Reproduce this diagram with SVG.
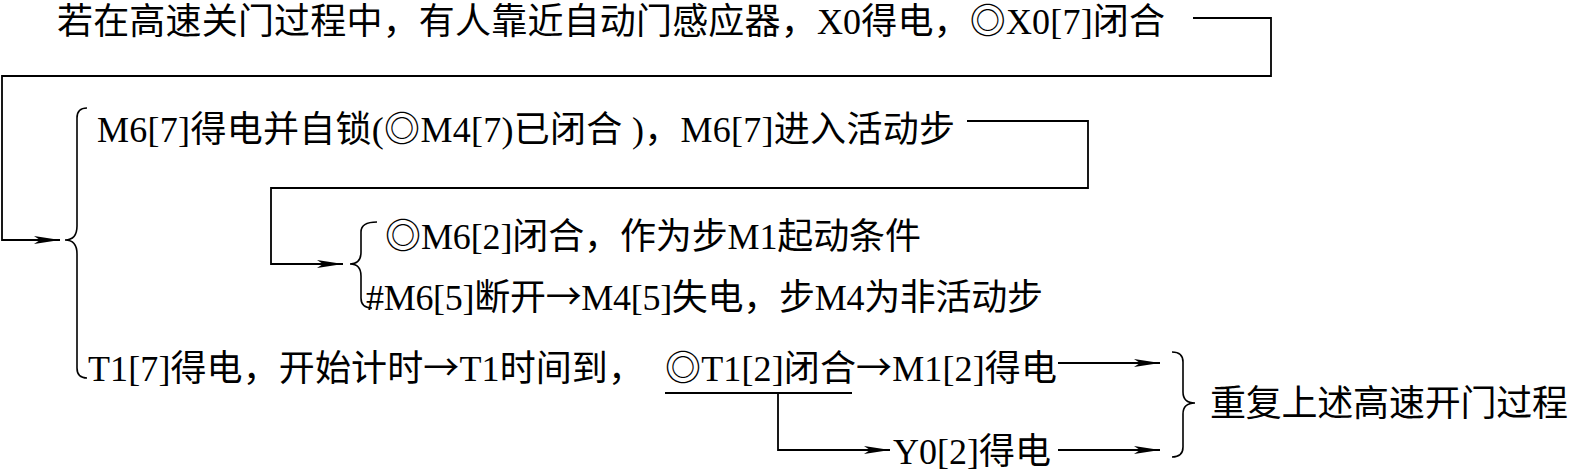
<svg xmlns="http://www.w3.org/2000/svg" width="1574" height="471" viewBox="0 0 1574 471">
<style>
.t{font-family:"Liberation Serif","Noto Sans CJK SC",serif;font-size:36px;fill:#000}
.a{font-family:"Noto Sans CJK SC",sans-serif}
.ln{fill:none;stroke:#000;stroke-width:1.8}
.br{fill:none;stroke:#000;stroke-width:1.6}
</style>
<defs>
<marker id="ah" markerUnits="userSpaceOnUse" viewBox="0 0 26 8" markerWidth="26" markerHeight="8" refX="26" refY="4" orient="auto">
<path d="M0,0 L26,4 L0,8 L6,4 Z" fill="#000"/>
</marker>
</defs>
<rect width="1574" height="471" fill="#fff"/>
<g id="n1"><text class="t" x="57" y="34" textLength="1108" lengthAdjust="spacing">若在高速关门过程中，有人靠近自动门感应器，X0得电，◎X0[7]闭合</text></g>
<g id="n2"><text class="t" x="97" y="142" textLength="858" lengthAdjust="spacing">M6[7]得电并自锁(◎M4[7)已闭合 )，M6[7]进入活动步</text></g>
<g id="n3"><text class="t" x="385" y="249" textLength="536" lengthAdjust="spacing">◎M6[2]闭合，作为步M1起动条件</text></g>
<g id="n4"><text class="t" x="366" y="310" textLength="677" lengthAdjust="spacing">#M6[5]断开<tspan class="a">→</tspan>M4[5]失电，步M4为非活动步</text></g>
<g id="n5"><text class="t" x="88" y="381" textLength="556" lengthAdjust="spacing">T1[7]得电，开始计时<tspan class="a">→</tspan>T1时间到，</text><text class="t" x="665" y="381" textLength="392" lengthAdjust="spacing">◎T1[2]闭合<tspan class="a">→</tspan>M1[2]得电</text></g>
<g id="n6"><text class="t" x="893" y="464" textLength="158" lengthAdjust="spacing">Y0[2]得电</text></g>
<g id="n7"><text class="t" x="1210" y="416" textLength="358" lengthAdjust="spacing">重复上述高速开门过程</text></g>
<g id="braces">
<path class="br" d="M87,108 Q77,108 77,118 L77,226 Q77,240 65,240 Q77,240 77,254 L77,368 Q77,378 87,378"/>
<path class="br" d="M377,222 Q361,222 361,232 L361,252 Q361,264 350,264 Q361,264 361,276 L361,298 Q361,308 372,308"/>
<path class="br" d="M1172,352 Q1183,352 1183,362 L1183,392 Q1183,403 1195,403 Q1183,403 1183,414 L1183,447 Q1183,457 1172,457"/>
</g>
<g id="connectors">
<polyline class="ln" points="1193,18 1271,18 1271,76 2,76 2,240 60,240" marker-end="url(#ah)"/>
<polyline class="ln" points="967,121 1088,121 1088,188 271,188 271,264 343,264" marker-end="url(#ah)"/>
<line class="ln" x1="665" y1="393" x2="852" y2="393"/>
<polyline class="ln" points="778,393 778,450 890,450" marker-end="url(#ah)"/>
<line class="ln" x1="1058" y1="363" x2="1160" y2="363" marker-end="url(#ah)"/>
<line class="ln" x1="1058" y1="450" x2="1160" y2="450" marker-end="url(#ah)"/>
</g>
</svg>
